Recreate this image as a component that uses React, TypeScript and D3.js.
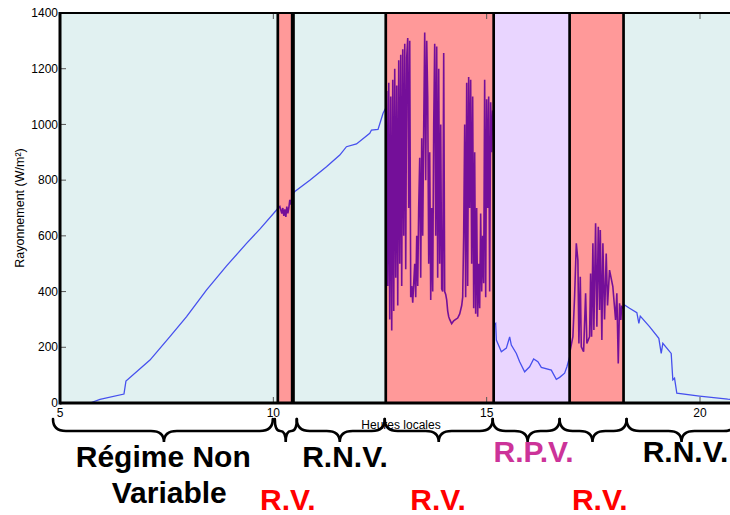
import React from 'react';
import * as d3 from 'd3';

// ---------- data ----------
const xTicks = [5, 10, 15, 20];
const yTicks = [0, 200, 400, 600, 800, 1000, 1200, 1400];

// regime boundaries (hours) and kinds
const regimeBounds = [5, 10.105, 10.457, 12.635, 15.164, 16.944, 18.208, 20.9];
const regimeKinds = ['nv', 'v', 'nv', 'v', 'pv', 'v', 'nv'];
const separators = [10.105, 10.457, 12.635, 15.164, 16.944, 18.208];

// non-variable / partially variable parts (blue)
const blueMorning: [number, number][] = [
  [5.703, 0], [5.937, 13], [6.499, 32], [6.546, 79], [7.108, 154], [7.576, 238],
  [7.967, 310], [8.436, 406], [8.904, 492], [9.372, 573], [9.684, 624], [10.075, 693], [10.105, 698],
];
const blueMidday: [number, number][] = [
  [10.457, 750], [10.504, 759], [10.855, 800], [11.246, 848], [11.557, 890], [11.714, 920],
  [11.949, 930], [12.26, 968], [12.3, 980], [12.454, 982], [12.572, 1040], [12.635, 1059],
];
const blueAfternoon: [number, number][] = [
  [15.164, 280], [15.211, 286], [15.227, 226], [15.344, 184], [15.461, 197], [15.539, 237],
  [15.578, 208], [15.696, 178], [15.773, 148], [15.89, 112], [16.007, 130], [16.101, 158],
  [16.201, 148], [16.281, 128], [16.515, 118], [16.632, 85], [16.71, 92], [16.827, 107],
  [16.881, 130], [16.944, 165],
];
const blueEvening: [number, number][] = [
  [18.208, 340], [18.232, 352], [18.349, 340], [18.52, 324], [18.567, 286], [18.6, 312],
  [18.817, 274], [19.035, 232], [19.091, 178], [19.129, 214], [19.325, 178], [19.363, 83],
  [19.403, 89], [19.457, 35], [19.988, 25], [20.651, 14], [20.808, 12],
];

// variable parts (purple)
const purpleA: [number, number][] = [
  [10.105, 698], [10.152, 705], [10.199, 680], [10.222, 700], [10.246, 672], [10.269, 695],
  [10.293, 668], [10.316, 705], [10.34, 681], [10.363, 700], [10.386, 729], [10.41, 712],
  [10.433, 735], [10.457, 745],
];
const purpleB: [number, number][] = [
  [12.635, 1060], [12.658, 1120], [12.682, 420], [12.705, 1150], [12.728, 300], [12.752, 1100],
  [12.775, 260], [12.799, 1160], [12.822, 330], [12.845, 1200], [12.869, 450], [12.892, 1140],
  [12.916, 350], [12.939, 1230], [12.963, 500], [12.986, 1250], [13.009, 420], [13.033, 1270],
  [13.056, 600], [13.08, 1290], [13.103, 480], [13.126, 1240], [13.15, 1310], [13.173, 700],
  [13.197, 1300], [13.22, 380], [13.244, 420], [13.267, 360], [13.29, 430], [13.314, 500],
  [13.337, 380], [13.361, 600], [13.384, 420], [13.407, 700], [13.431, 880], [13.454, 450],
  [13.478, 950], [13.501, 600], [13.525, 1000], [13.548, 1330], [13.571, 800], [13.595, 1300],
  [13.618, 1100], [13.642, 500], [13.665, 900], [13.689, 370], [13.712, 700], [13.735, 400],
  [13.759, 1000], [13.782, 1290], [13.806, 600], [13.829, 1280], [13.852, 450], [13.876, 1200],
  [13.899, 500], [13.923, 1000], [13.946, 410], [13.97, 400], [13.993, 1256], [14.016, 400],
  [14.04, 390], [14.063, 370], [14.087, 330], [14.11, 310], [14.133, 300], [14.18, 285],
  [14.227, 295], [14.274, 300], [14.321, 305], [14.368, 320], [14.415, 350], [14.438, 380],
  [14.461, 600], [14.485, 1000], [14.508, 380], [14.532, 1150], [14.555, 420], [14.578, 1170],
  [14.602, 700], [14.625, 1160], [14.649, 500], [14.672, 1100], [14.696, 340], [14.719, 900],
  [14.742, 320], [14.766, 700], [14.789, 310], [14.813, 500], [14.836, 340], [14.859, 680],
  [14.883, 400], [14.906, 600], [14.93, 430], [14.953, 1160], [14.977, 380], [15.0, 1090],
  [15.023, 700], [15.047, 1100], [15.07, 400], [15.094, 1080], [15.117, 900], [15.141, 1050],
  [15.164, 1040],
];
const purpleC: [number, number][] = [
  [16.944, 178], [17.021, 238], [17.061, 382], [17.101, 573], [17.138, 513], [17.162, 214],
  [17.194, 453], [17.218, 202], [17.272, 184], [17.319, 394], [17.349, 214], [17.412, 238],
  [17.436, 465], [17.459, 238], [17.49, 573], [17.513, 262], [17.553, 645], [17.583, 274],
  [17.616, 633], [17.646, 334], [17.663, 621], [17.7, 226], [17.724, 573], [17.763, 300],
  [17.802, 537], [17.833, 350], [17.88, 477], [17.957, 418], [18.021, 298], [18.051, 394],
  [18.084, 142], [18.115, 358], [18.145, 298], [18.162, 346], [18.208, 340],
];

// braces under the axis: [start, tip, end] in hours
const braces: [number, number, number][] = [
  [4.836, 7.436, 9.988],
  [10.035, 10.29, 10.55],
  [10.55, 11.557, 12.611],
  [12.611, 13.876, 15.141],
  [15.141, 15.96, 16.71],
  [16.71, 17.48, 18.279],
  [18.279, 19.567, 20.855],
];

const regimeLabels = [
  { lines: ['Régime Non', 'Variable'], hour: 7.42, kind: 'nv' },
  { lines: ['R.V.'], hour: 10.34, kind: 'v' },
  { lines: ['R.N.V.'], hour: 11.68, kind: 'nv' },
  { lines: ['R.V.'], hour: 13.86, kind: 'v' },
  { lines: ['R.P.V.'], hour: 16.1, kind: 'pv' },
  { lines: ['R.V.'], hour: 17.65, kind: 'v' },
  { lines: ['R.N.V.'], hour: 19.66, kind: 'nv' },
];

// ---------- layout ----------
const W = 730;
const H = 515;
const left = 60;
const top = 13;
const bottom = 403;
const FONT = 'Liberation Sans, Arial, Helvetica, sans-serif';

const bgColor: Record<string, string> = { nv: '#e1f1f1', v: '#ff9999', pv: '#e9d5ff' };
const labelColor: Record<string, string> = { nv: '#000000', v: '#ff0000', pv: '#cc3399' };

export default function App() {
  const x = d3.scaleLinear().domain([5, 20]).range([left, 700]);
  const y = d3.scaleLinear().domain([0, 1400]).range([bottom, top]);
  const line = d3
    .line<[number, number]>()
    .x((d) => x(d[0]))
    .y((d) => y(d[1]));

  const braceTop = 419;
  const braceMid = 431;
  const braceBot = 442;
  const bracePath = (b: [number, number, number]) => {
    const x0 = x(b[0]);
    const xt = x(b[1]);
    const x1 = x(b[2]);
    const r = Math.min(13, (xt - x0) / 2, (x1 - xt) / 2);
    return `M${x0},${braceTop} Q${x0},${braceMid} ${x0 + r},${braceMid} L${xt - r},${braceMid} Q${xt},${braceMid} ${xt},${braceBot} Q${xt},${braceMid} ${xt + r},${braceMid} L${x1 - r},${braceMid} Q${x1},${braceMid} ${x1},${braceTop}`;
  };

  const labelBaseline = (kind: string, i: number) => {
    if (kind === 'v') return 510;
    if (kind === 'pv') return 462;
    return i === 6 ? 462 : 467;
  };

  return (
    <svg
      width={W}
      height={H}
      style={{ position: 'absolute', left: 0, top: 0, background: '#fff' }}
      fontFamily={FONT}
    >
      <defs>
        <clipPath id="plot">
          <rect x={left} y={top} width={W - left} height={bottom - top} />
        </clipPath>
      </defs>
      <g clipPath="url(#plot)">
        {regimeKinds.map((k, i) => (
          <rect
            key={i}
            x={x(regimeBounds[i])}
            y={top}
            width={x(regimeBounds[i + 1]) - x(regimeBounds[i])}
            height={bottom - top}
            fill={bgColor[k]}
          />
        ))}
        {/* inner ticks */}
        {xTicks.map((t) => (
          <g key={t} stroke="#555" strokeWidth={1}>
            <line x1={x(t)} x2={x(t)} y1={bottom} y2={bottom - 6} />
            <line x1={x(t)} x2={x(t)} y1={top} y2={top + 6} />
          </g>
        ))}
        {yTicks.map((t) => (
          <line key={t} x1={left} x2={left + 6} y1={y(t)} y2={y(t)} stroke="#555" strokeWidth={1} />
        ))}
        {[blueMorning, blueMidday, blueAfternoon, blueEvening].map((s, i) => (
          <path key={'b' + i} d={line(s) || ''} fill="none" stroke="#4650ee" strokeWidth={1.3} />
        ))}
        {[purpleA, purpleB, purpleC].map((s, i) => (
          <path key={'p' + i} d={line(s) || ''} fill="none" stroke="#650099" strokeWidth={1.6} strokeOpacity={0.9} />
        ))}
      </g>
      {separators.map((s, i) => (
        <line
          key={s}
          x1={x(s)}
          x2={x(s)}
          y1={top - 1}
          y2={bottom}
          stroke="#000"
          strokeWidth={i === 1 ? 4 : 2.7}
        />
      ))}
      {/* axes frame */}
      <line x1={left} x2={W} y1={top} y2={top} stroke="#000" strokeWidth={2} />
      <line x1={left} x2={W} y1={bottom} y2={bottom} stroke="#000" strokeWidth={3.2} />
      <line x1={left} x2={left} y1={top - 1} y2={bottom + 1.5} stroke="#000" strokeWidth={3} />

      {/* tick labels */}
      {yTicks.map((t) => (
        <text key={t} x={58} y={y(t)} dy="0.35em" textAnchor="end" fontSize={12} fill="#000">
          {t}
        </text>
      ))}
      {xTicks.map((t) => (
        <text key={t} x={x(t)} y={417} textAnchor="middle" fontSize={12} fill="#000">
          {t}
        </text>
      ))}
      <text
        transform={`translate(24,${(top + bottom) / 2}) rotate(-90)`}
        textAnchor="middle"
        fontSize={12.5}
        fill="#000"
      >
        Rayonnement (W/m²)
      </text>
      <text x={401} y={429} textAnchor="middle" fontSize={12} fill="#000">
        Heures locales
      </text>

      {/* braces */}
      {braces.map((b, i) => (
        <path key={i} d={bracePath(b)} fill="none" stroke="#000" strokeWidth={2.6} strokeLinecap="round" />
      ))}

      {/* regime labels */}
      {regimeLabels.map((l, i) =>
        l.lines.map((txt, j) => (
          <text
            key={i + '-' + j}
            x={x(l.hour) + (j === 1 ? 6 : 0)}
            y={labelBaseline(l.kind, i) + j * 36}
            textAnchor="middle"
            fontSize={30}
            fontWeight="bold"
            fill={labelColor[l.kind]}
          >
            {txt}
          </text>
        ))
      )}
    </svg>
  );
}
